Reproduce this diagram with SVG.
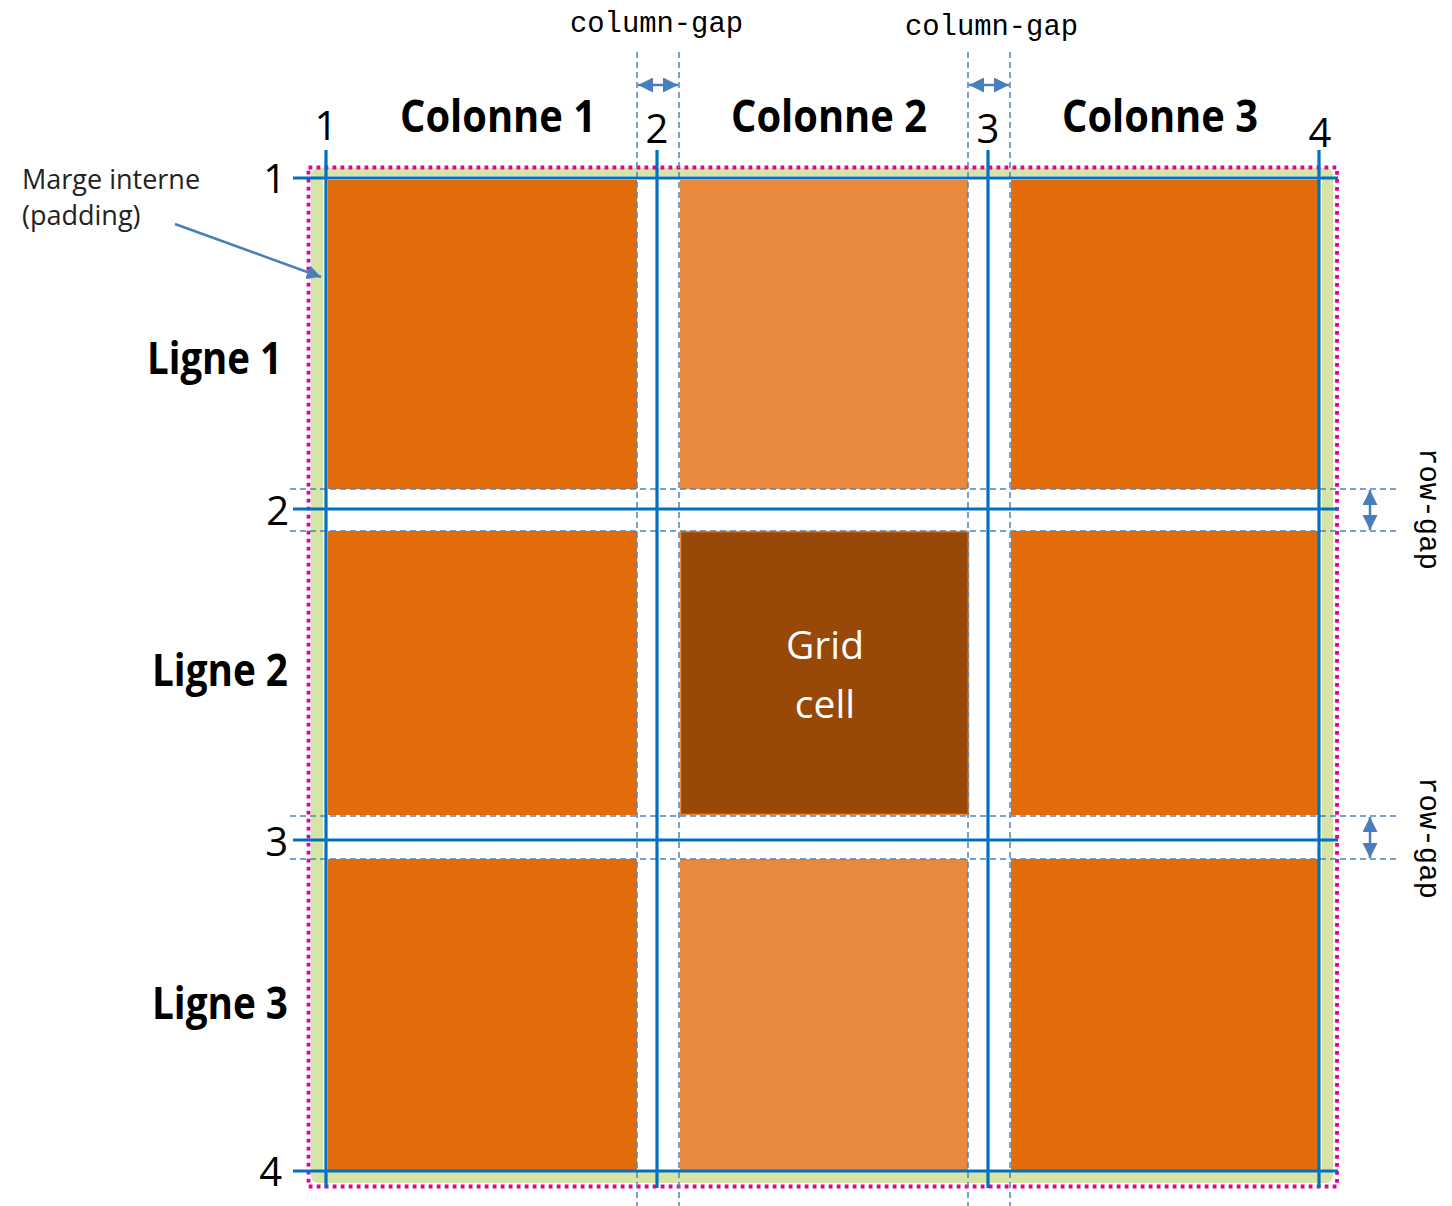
<svg xmlns="http://www.w3.org/2000/svg" width="1452" height="1206" viewBox="0 0 1452 1206">
<style>
.gl{stroke:#0070C0;stroke-width:3.2;fill:none}
.dash{stroke:#4F81BD;stroke-width:1.5;stroke-dasharray:6 4;fill:none}
.arr{stroke:#4A7EBB;stroke-width:2.5;fill:none}
.c1{fill:#E36C0A}
.c2{fill:#E8893D}
.c3{fill:#984807;stroke:#E8893D;stroke-width:1.5}
.num{font-family:"Open Sans","Liberation Sans",sans-serif;font-size:40px;fill:#000}
.lab{font-family:"Open Sans","Liberation Sans",sans-serif;font-size:45px;font-weight:700;fill:#000}
.mono{font-family:"Liberation Mono","DejaVu Sans Mono",monospace;font-size:29px;fill:#000}
.note{font-family:"Open Sans","Liberation Sans",sans-serif;font-size:27px;fill:#222}
.cell{font-family:"Open Sans","Liberation Sans",sans-serif;font-size:39px;fill:#fff}
</style>
<defs>
<marker id="ah" viewBox="0 0 10 10" refX="10" refY="5" markerWidth="15" markerHeight="15" markerUnits="userSpaceOnUse" orient="auto-start-reverse">
<path d="M0,0 L10,5 L0,10 z" fill="#4A7EBB"/>
</marker>
<marker id="ah2" viewBox="0 0 10 10" refX="10" refY="5" markerWidth="14" markerHeight="14" markerUnits="userSpaceOnUse" orient="auto">
<path d="M0,0 L10,5 L0,10 z" fill="#4A7EBB"/>
</marker>
</defs>
<rect width="1452" height="1206" fill="#fff"/>
<g id="container">
<rect x="311" y="168" width="1022" height="1015" rx="7" fill="#D7E4A8"/>
<rect x="323" y="176" width="999" height="996" fill="#fff"/>
<rect x="308.5" y="167.5" width="1028.5" height="1019" fill="none" stroke="#E0009A" stroke-width="3.8" stroke-dasharray="3.8 4.2"/>
</g>
<g id="cells">
<rect id="cell-1-1" class="c1" x="328" y="180" width="309" height="309"/>
<rect id="cell-1-2" class="c2" x="680" y="180" width="288" height="309"/>
<rect id="cell-1-3" class="c1" x="1011" y="180" width="308" height="309"/>
<rect id="cell-2-1" class="c1" x="328" y="531" width="309" height="284"/>
<g id="cell-2-2">
<rect class="c3" x="680.5" y="531.5" width="288" height="283"/>
<text class="cell" x="825" y="659" text-anchor="middle">Grid</text>
<text class="cell" x="825" y="718" text-anchor="middle">cell</text>
</g>
<rect id="cell-2-3" class="c1" x="1011" y="531" width="308" height="284"/>
<rect id="cell-3-1" class="c1" x="328" y="859" width="309" height="311"/>
<rect id="cell-3-2" class="c2" x="680" y="859" width="288" height="311"/>
<rect id="cell-3-3" class="c1" x="1011" y="859" width="308" height="311"/>
</g>
<g id="gap-guides">
<line class="dash" x1="637" y1="52" x2="637" y2="1206"/>
<line class="dash" x1="679" y1="52" x2="679" y2="1206"/>
<line class="dash" x1="968" y1="52" x2="968" y2="1206"/>
<line class="dash" x1="1010" y1="52" x2="1010" y2="1206"/>
<line class="dash" x1="290" y1="489" x2="1398" y2="489"/>
<line class="dash" x1="290" y1="531" x2="1398" y2="531"/>
<line class="dash" x1="290" y1="816" x2="1398" y2="816"/>
<line class="dash" x1="290" y1="859" x2="1398" y2="859"/>
</g>
<g id="grid-lines">
<line class="gl" x1="326" y1="150" x2="326" y2="1188"/>
<line class="gl" x1="657" y1="150" x2="657" y2="1188"/>
<line class="gl" x1="988" y1="150" x2="988" y2="1188"/>
<line class="gl" x1="1319" y1="150" x2="1319" y2="1188"/>
<line class="gl" x1="293" y1="178" x2="1338" y2="178"/>
<line class="gl" x1="293" y1="509" x2="1338" y2="509"/>
<line class="gl" x1="293" y1="840" x2="1338" y2="840"/>
<line class="gl" x1="293" y1="1171" x2="1338" y2="1171"/>
</g>
<g id="connectors">
<line class="arr" x1="638" y1="85" x2="678" y2="85" marker-start="url(#ah)" marker-end="url(#ah)"/>
<line class="arr" x1="969" y1="85" x2="1009" y2="85" marker-start="url(#ah)" marker-end="url(#ah)"/>
<line class="arr" x1="1370" y1="490" x2="1370" y2="530" marker-start="url(#ah)" marker-end="url(#ah)"/>
<line class="arr" x1="1370" y1="817" x2="1370" y2="858" marker-start="url(#ah)" marker-end="url(#ah)"/>
<line class="arr" x1="175" y1="224" x2="321" y2="277" stroke-width="1.5" marker-end="url(#ah2)"/>
</g>
<g id="col-numbers">
<text class="num" x="326" y="140" text-anchor="middle">1</text>
<text class="num" x="657" y="143" text-anchor="middle">2</text>
<text class="num" x="988" y="143" text-anchor="middle">3</text>
<text class="num" x="1320" y="147" text-anchor="middle">4</text>
</g>
<g id="row-numbers">
<text class="num" x="286" y="193" text-anchor="end">1</text>
<text class="num" x="289" y="525" text-anchor="end">2</text>
<text class="num" x="288" y="856" text-anchor="end">3</text>
<text class="num" x="282" y="1186" text-anchor="end">4</text>
</g>
<g id="labels">
<text class="lab" x="400" y="132" textLength="196" lengthAdjust="spacingAndGlyphs">Colonne 1</text>
<text class="lab" x="731" y="132" textLength="196" lengthAdjust="spacingAndGlyphs">Colonne 2</text>
<text class="lab" x="1062" y="132" textLength="196" lengthAdjust="spacingAndGlyphs">Colonne 3</text>
<text class="lab" x="147" y="374" textLength="135" lengthAdjust="spacingAndGlyphs">Ligne 1</text>
<text class="lab" x="152" y="686" textLength="136" lengthAdjust="spacingAndGlyphs">Ligne 2</text>
<text class="lab" x="152" y="1019" textLength="136" lengthAdjust="spacingAndGlyphs">Ligne 3</text>
</g>
<g id="gap-labels">
<text class="mono" x="570" y="32" textLength="173" lengthAdjust="spacingAndGlyphs">column-gap</text>
<text class="mono" x="905" y="35" textLength="173" lengthAdjust="spacingAndGlyphs">column-gap</text>
<text class="mono" x="1420" y="448" transform="rotate(90 1420 448)" textLength="122" lengthAdjust="spacingAndGlyphs">row-gap</text>
<text class="mono" x="1420" y="777" transform="rotate(90 1420 777)" textLength="122" lengthAdjust="spacingAndGlyphs">row-gap</text>
</g>
<g id="padding-note">
<text class="note" x="22" y="189">Marge interne</text>
<text class="note" x="22" y="225">(padding)</text>
</g>
</svg>
